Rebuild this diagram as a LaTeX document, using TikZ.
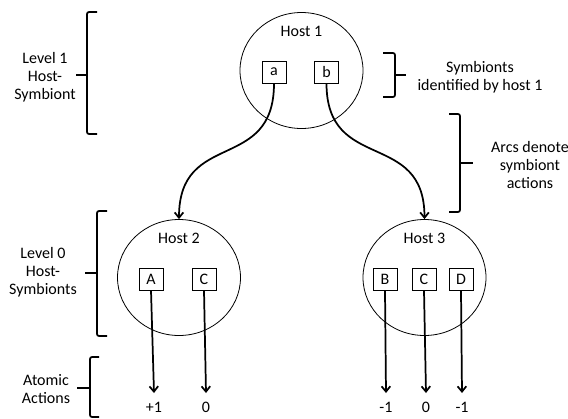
\documentclass[tikz,border=0pt]{standalone}
\usepackage{fontspec}
\setmainfont{Carlito}
\usetikzlibrary{arrows.meta,positioning,shapes.geometric}

\begin{document}
\begin{tikzpicture}[
    x=0.75pt, y=-0.75pt,
    every node/.style={font=\fontsize{12}{13.5}\selectfont},
    host/.style={ellipse, draw, line width=0.6pt, minimum width=92.25pt, minimum height=87pt},
    hosttext/.style={inner sep=0pt},
    sym/.style={rectangle, draw, line width=0.6pt, minimum width=18pt, minimum height=16.5pt, inner sep=0pt},
    act/.style={inner sep=0pt, outer sep=6.7pt, text height=7.6pt, text depth=0pt},
    note/.style={align=center},
    arrow/.style={-{Straight Barb[length=4pt,width=6.5pt]}, line width=1.3pt},
    bracket/.style={line width=1.3pt, rounded corners=1.5pt},
]
    \useasboundingbox (0,0) rectangle (568,418);

    % Hosts
    \node[host] (h1) at (301.5,70.5) {};
    \node[host] (h2) at (179,277.5) {};
    \node[host] (h3) at (424.5,277.5) {};
    \node[hosttext, below=10.4pt of h1.north] (t1) {Host 1};
    \node[hosttext, below=10.4pt of h2.north] (t2) {Host 2};
    \node[hosttext, below=10.4pt of h3.north] (t3) {Host 3};

    % Symbionts
    \node[sym] (a) at (274,72) {a};
    \node[sym] (b) at (326.5,72) {b};
    \node[sym] (A) at (151,279) {A};
    \node[sym] (C2) at (204,279) {C};
    \node[sym] (B) at (385,279) {B};
    \node[sym] (C3) at (424,279) {C};
    \node[sym] (D) at (461,279) {D};

    % Atomic actions
    \node[act] (pA) at (154,407) {+1};
    \node[act] (pC2) at (206,407) {0};
    \node[act] (pB) at (386,407) {-1};
    \node[act] (pC3) at (426,407) {0};
    \node[act] (pD) at (462,407) {-1};

    \draw[arrow] (a.south) .. controls +(0,90) and +(0,-90) .. (h2.north);
    \draw[arrow] (b.south) .. controls +(0,90) and +(0,-90) .. (h3.north);
    \draw[arrow] (A.south) -- (pA.north);
    \draw[arrow] (C2.south) -- (pC2.north);
    \draw[arrow] (B.south) -- (pB.north);
    \draw[arrow] (C3.south) -- (pC3.north);
    \draw[arrow] (D.south) -- (pD.north);

    % Braces and notes
    \draw[bracket] (97,12) -| (87,134) -- (97,134);
    \draw[bracket] (76,75) -- (87,75);
    \node[note] (n1) at (45,77) {Level 1\\Host-\\Symbiont};

    \draw[bracket] (107,211) -| (97,336) -- (107,336);
    \draw[bracket] (85,273) -- (97,273);
    \node[note] (n0) at (43,272) {Level 0\\Host-\\Symbionts};

    \draw[bracket] (99,357) -| (90,417) -- (99,417);
    \draw[bracket] (77,388) -- (90,388);
    \node[note] (nat) at (46,389) {Atomic\\Actions};

    \draw[bracket] (383,53) -| (395,97) -- (383,97);
    \draw[bracket] (395,75) -- (406,75);
    \node[note] (nsym) at (480,77) {Symbionts\\identified by host 1};

    \draw[bracket] (449,114) -| (460,212) -- (449,212);
    \draw[bracket] (460,163) -- (473,163);
    \node[note] (narc) at (530,165) {Arcs denote\\symbiont\\actions};
\end{tikzpicture}
\end{document}
